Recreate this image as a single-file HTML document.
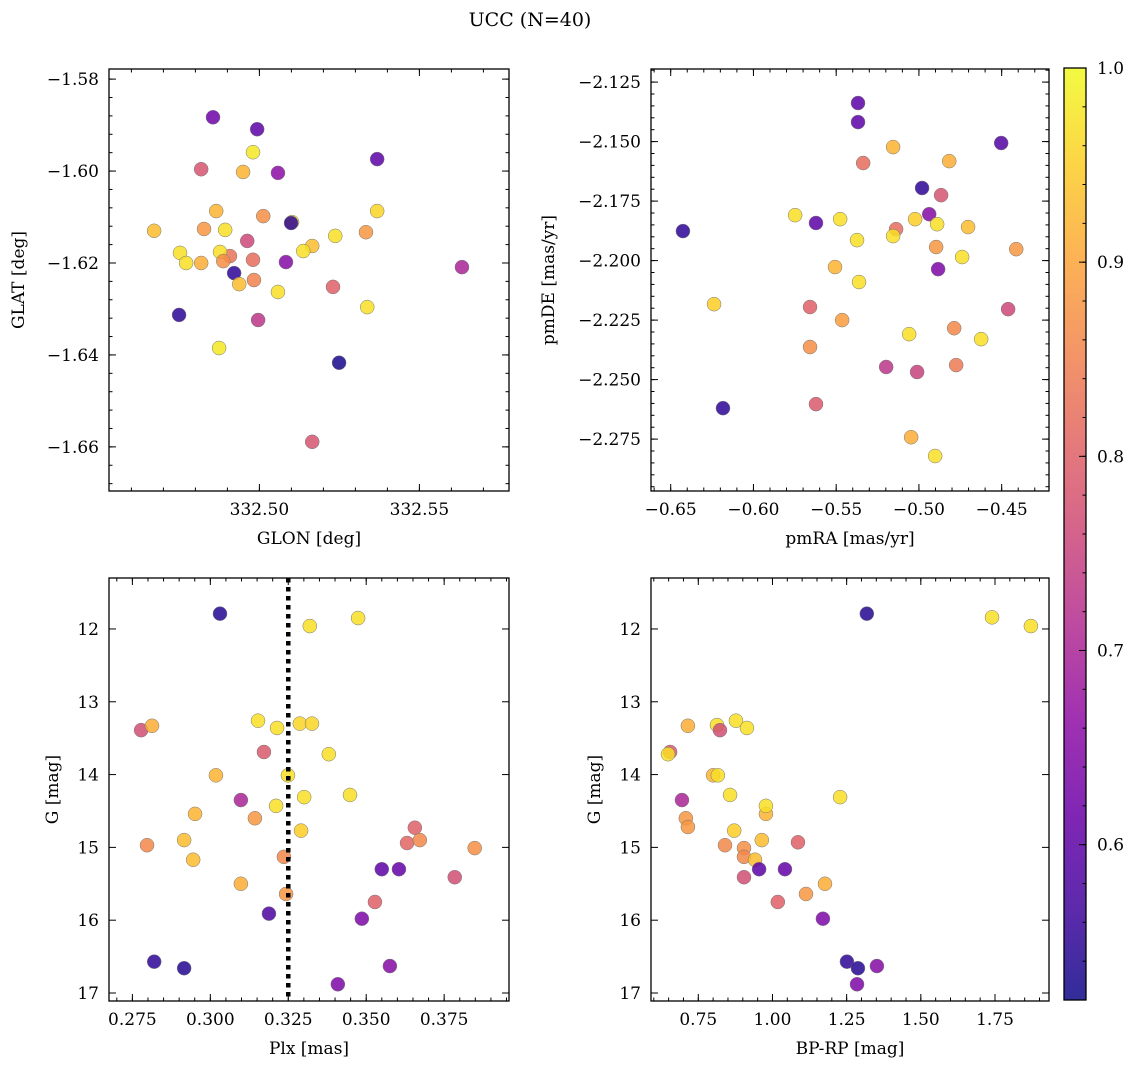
<!DOCTYPE html>
<html><head><meta charset="utf-8">
<style>
html,body{margin:0;padding:0;background:#fff;}
svg{display:block;font-family:"DejaVu Serif","Liberation Serif",serif;}
</style></head>
<body>
<svg id="fig" width="1136" height="1068" viewBox="0 0 1136 1068" xmlns="http://www.w3.org/2000/svg">
<text x="530" y="26" font-size="19" text-anchor="middle">UCC (N=40)</text>
</svg>
<script>
// ---- data ----
const glon=[332.4855,332.4993,332.4980,332.4949,332.4818,332.5058,332.5368,332.4865,332.5012,332.4893,332.5102,332.4671,332.4827,332.4962,332.5165,332.5368,332.5237,332.5333,332.4752,332.4771,332.4818,332.4908,332.4877,332.4887,332.4980,332.5137,332.5083,332.4921,332.4983,332.4937,332.5058,332.5230,332.5633,332.4749,332.4996,332.5337,332.4874,332.5249,332.5165,332.5099];
const glat=[-1.5883,-1.5909,-1.5959,-1.6002,-1.5996,-1.6004,-1.5974,-1.6087,-1.6098,-1.6128,-1.6111,-1.6130,-1.6126,-1.6152,-1.6163,-1.6087,-1.6141,-1.6133,-1.6178,-1.6200,-1.6200,-1.6185,-1.6176,-1.6196,-1.6193,-1.6174,-1.6198,-1.6222,-1.6237,-1.6246,-1.6263,-1.6252,-1.6209,-1.6313,-1.6324,-1.6296,-1.6385,-1.6417,-1.6589,-1.6113];
const prob1=[0.62,0.60,0.98,0.92,0.78,0.66,0.60,0.92,0.87,0.97,0.97,0.93,0.88,0.76,0.93,0.96,0.97,0.88,0.97,0.97,0.91,0.83,0.97,0.87,0.82,0.97,0.65,0.55,0.85,0.93,0.97,0.80,0.70,0.55,0.73,0.97,0.98,0.53,0.78,0.55];
const pmra=[-0.5368,-0.5368,-0.4503,-0.5156,-0.5337,-0.4817,-0.4981,-0.4866,-0.6426,-0.5748,-0.5622,-0.5476,-0.5023,-0.4938,-0.5138,-0.5156,-0.4890,-0.5374,-0.4703,-0.4412,-0.4896,-0.4739,-0.4884,-0.5507,-0.5362,-0.6238,-0.5658,-0.4461,-0.5464,-0.4787,-0.5059,-0.4624,-0.5658,-0.5198,-0.5011,-0.4775,-0.5622,-0.6184,-0.5047,-0.4902];
const pmde=[-2.1338,-2.1418,-2.1506,-2.1523,-2.1590,-2.1582,-2.1695,-2.1725,-2.1876,-2.1809,-2.1842,-2.1826,-2.1826,-2.1805,-2.1868,-2.1897,-2.1847,-2.1914,-2.1859,-2.1952,-2.1943,-2.1985,-2.2036,-2.2027,-2.2090,-2.2183,-2.2195,-2.2204,-2.2250,-2.2284,-2.2309,-2.2330,-2.2363,-2.2447,-2.2468,-2.2439,-2.2603,-2.2620,-2.2742,-2.2821];
const prob2=[0.60,0.60,0.59,0.92,0.82,0.91,0.55,0.78,0.55,0.97,0.60,0.97,0.95,0.65,0.82,0.97,0.97,0.97,0.93,0.88,0.88,0.97,0.64,0.92,0.97,0.95,0.80,0.76,0.89,0.86,0.97,0.97,0.87,0.73,0.75,0.84,0.79,0.55,0.91,0.97];
const plx=[0.3031,0.3319,0.3474,0.2778,0.2813,0.3153,0.3214,0.3287,0.3326,0.3172,0.3380,0.3018,0.3249,0.3098,0.3301,0.3448,0.2951,0.3211,0.3143,0.3291,0.3656,0.2797,0.2916,0.3631,0.3672,0.3848,0.3236,0.2945,0.3550,0.3605,0.3784,0.3098,0.3243,0.3528,0.3188,0.3486,0.2820,0.2916,0.3576,0.3409];
const gmag3=[11.79,11.96,11.85,13.39,13.33,13.26,13.36,13.30,13.30,13.69,13.72,14.01,14.01,14.35,14.31,14.28,14.54,14.43,14.60,14.77,14.73,14.97,14.90,14.94,14.90,15.01,15.13,15.17,15.30,15.30,15.41,15.50,15.64,15.75,15.91,15.98,16.57,16.66,16.63,16.88];
const prob3=[0.54,0.97,0.97,0.77,0.91,0.97,0.97,0.96,0.96,0.79,0.97,0.92,0.97,0.70,0.97,0.97,0.92,0.97,0.88,0.95,0.80,0.86,0.93,0.81,0.86,0.87,0.86,0.93,0.60,0.61,0.77,0.91,0.88,0.80,0.58,0.64,0.55,0.54,0.65,0.64];
const bprp=[1.318,1.740,1.871,0.813,0.715,0.877,0.914,0.823,0.655,0.648,0.800,0.816,0.695,0.857,0.978,0.978,1.228,0.708,0.715,0.871,0.964,0.840,0.904,1.086,0.904,0.941,0.955,1.042,0.904,1.177,1.113,1.018,1.170,1.251,1.288,1.352,1.285];
const gmag4=[11.79,11.84,11.96,13.32,13.33,13.26,13.36,13.39,13.69,13.72,14.01,14.01,14.35,14.28,14.54,14.43,14.31,14.60,14.72,14.77,14.90,14.97,15.01,14.93,15.13,15.17,15.30,15.30,15.41,15.50,15.64,15.75,15.98,16.57,16.66,16.63,16.88];
const prob4=[0.54,0.97,0.97,0.97,0.91,0.97,0.97,0.77,0.79,0.97,0.92,0.97,0.70,0.97,0.92,0.97,0.97,0.88,0.88,0.95,0.93,0.86,0.87,0.80,0.86,0.93,0.60,0.61,0.77,0.91,0.88,0.80,0.64,0.55,0.54,0.65,0.64];
const ticks1x=[332.50,332.55], ticks1y=[-1.58,-1.60,-1.62,-1.64,-1.66];
const ticks2x=[-0.65,-0.60,-0.55,-0.50,-0.45], ticks2y=[-2.125,-2.150,-2.175,-2.200,-2.225,-2.250,-2.275];
const ticks3x=[0.275,0.300,0.325,0.350,0.375], ticksGy=[12,13,14,15,16,17];
const ticks4x=[0.75,1.00,1.25,1.50,1.75];
const cbTicks=[0.6,0.7,0.8,0.9,1.0];
const plxMedian=0.325;
const vmin=0.52, vmax=1.0;

// ---- helpers ----
const NS="http://www.w3.org/2000/svg";
const svg=document.getElementById('fig');
function mk(tag,attrs,parent){const e=document.createElementNS(NS,tag);for(const k in attrs)e.setAttribute(k,attrs[k]);(parent||svg).appendChild(e);return e;}
const plasma=[[13,8,135],[65,4,157],[106,0,168],[143,13,164],[177,42,144],[204,71,120],[225,100,98],[242,132,75],[252,166,54],[252,206,37],[240,249,33]];
function cmap(v){let t=(v-vmin)/(vmax-vmin);t=Math.max(0,Math.min(1,t))*10;const i=Math.min(9,Math.floor(t)),f=t-i;const a=plasma[i],b=plasma[i+1];return 'rgb('+[0,1,2].map(k=>Math.round(a[k]+(b[k]-a[k])*f)).join(',')+')';}
function fmt(v,d){const s=Math.abs(v).toFixed(d);return (v<0?'\u2212':'')+s;}

function panel(cfg){
  const g=mk('g',{});
  
  
  const sx=v=>cfg.px0+(v-cfg.xmin)/(cfg.xmax-cfg.xmin)*(cfg.px1-cfg.px0);
  const sy=v=>cfg.py0+(cfg.ytop-v)/(cfg.ytop-cfg.ybot)*(cfg.py1-cfg.py0);
  for(let i=0;i<cfg.xs.length;i++){
    const c=mk('circle',{cx:sx(cfg.xs[i]),cy:sy(cfg.ys[i]),r:7,fill:cmap(cfg.cs[i]),'fill-opacity':0.85,stroke:'#777','stroke-width':0.5},g);
    
    
  }
  if(cfg.extra)cfg.extra(g,sx,sy);
  const fr=mk('rect',{x:cfg.px0,y:cfg.py0,width:cfg.px1-cfg.px0,height:cfg.py1-cfg.py0,fill:'none',stroke:'#000','stroke-width':1.3},g);
  
  
  const tk=mk('g',{stroke:'#000','stroke-width':1},g);
  for(let v=Math.ceil(cfg.xmin/cfg.xminor-1e-9)*cfg.xminor;v<=cfg.xmax;v+=cfg.xminor){const x=sx(v);
    mk('line',{x1:x,x2:x,y1:cfg.py1,y2:cfg.py1-3.5},tk);mk('line',{x1:x,x2:x,y1:cfg.py0,y2:cfg.py0+3.5},tk);}
  for(let v=Math.ceil(cfg.ybot/cfg.yminor-1e-9)*cfg.yminor;v<=cfg.ytop;v+=cfg.yminor){const y=sy(v);
    mk('line',{x1:cfg.px0,x2:cfg.px0+3.5,y1:y,y2:y},tk);mk('line',{x1:cfg.px1,x2:cfg.px1-3.5,y1:y,y2:y},tk);}
  cfg.xt.forEach(v=>{const x=sx(v);
    mk('line',{x1:x,x2:x,y1:cfg.py1,y2:cfg.py1-7},tk);mk('line',{x1:x,x2:x,y1:cfg.py0,y2:cfg.py0+7},tk);
    const t=mk('text',{x:x,y:cfg.py1+24,'font-size':17,'text-anchor':'middle'},g);t.textContent=fmt(v,cfg.xd);
    });
  cfg.yt.forEach(v=>{const y=sy(v);
    mk('line',{x1:cfg.px0,x2:cfg.px0+7,y1:y,y2:y},tk);mk('line',{x1:cfg.px1,x2:cfg.px1-7,y1:y,y2:y},tk);
    const t=mk('text',{x:cfg.px0-10,y:y+6,'font-size':17,'text-anchor':'end'},g);t.textContent=fmt(v,cfg.yd);
    });
  const xl=mk('text',{x:(cfg.px0+cfg.px1)/2,y:cfg.py1+53,'font-size':17,'text-anchor':'middle'},g);xl.textContent=cfg.xlabel;
  
  const yx=cfg.ylx, yy=(cfg.py0+cfg.py1)/2;
  const yl=mk('text',{x:yx,y:yy,'font-size':17,'text-anchor':'middle',transform:'rotate(-90 '+yx+' '+yy+')'},g);yl.textContent=cfg.ylabel;
  
}

panel({name:'glon-glat-panel',px0:109,px1:509,py0:69,py1:491,xmin:332.453,xmax:332.578,ytop:-1.5778,ybot:-1.6696,
  xs:glon,ys:glat,cs:prob1,xt:ticks1x,yt:ticks1y,xd:2,yd:2,xminor:0.01,yminor:0.004,xlabel:'GLON [deg]',ylabel:'GLAT [deg]',ylx:24});
panel({name:'proper-motion-panel',px0:651,px1:1049,py0:69,py1:491,xmin:-0.6619,xmax:-0.4214,ytop:-2.1195,ybot:-2.2968,
  xs:pmra,ys:pmde,cs:prob2,xt:ticks2x,yt:ticks2y,xd:2,yd:3,xminor:0.01,yminor:0.005,xlabel:'pmRA [mas/yr]',ylabel:'pmDE [mas/yr]',ylx:554});
panel({name:'plx-g-panel',px0:109,px1:509,py0:578,py1:1001,xmin:0.2675,xmax:0.3958,ytop:11.30,ybot:17.11,
  xs:plx,ys:gmag3,cs:prob3,xt:ticks3x,yt:ticksGy,xd:3,yd:0,xminor:0.005,yminor:0.2,xlabel:'Plx [mas]',ylabel:'G [mag]',ylx:58,
  extra:(g,sx,sy)=>{const l=mk('line',{x1:sx(plxMedian),x2:sx(plxMedian),y1:578,y2:1001,stroke:'#000','stroke-width':4.5,'stroke-dasharray':'4.5 4.5'},g);
    }});
panel({name:'cmd-panel',px0:651,px1:1049,py0:578,py1:1001,xmin:0.5906,xmax:1.932,ytop:11.30,ybot:17.11,
  xs:bprp,ys:gmag4,cs:prob4,xt:ticks4x,yt:ticksGy,xd:2,yd:0,xminor:0.05,yminor:0.2,xlabel:'BP-RP [mag]',ylabel:'G [mag]',ylx:600});

// colorbar
const cb=mk('g',{});


const defs=mk('defs',{},cb);
const lg=mk('linearGradient',{id:'cbg',x1:0,y1:1,x2:0,y2:0},defs);
for(let i=0;i<=20;i++){const v=vmin+(vmax-vmin)*i/20;mk('stop',{offset:(i/20),'stop-color':cmap(v),'stop-opacity':0.85},lg);}
const cbx0=1064,cbx1=1086,cby0=68,cby1=1000;
const cy=v=>cby0+(vmax-v)/(vmax-vmin)*(cby1-cby0);
mk('rect',{x:cbx0,y:cby0,width:cbx1-cbx0,height:cby1-cby0,fill:'url(#cbg)',stroke:'#000','stroke-width':1.3},cb);
for(let v=0.54;v<vmax;v+=0.02){mk('line',{x1:cbx1,x2:cbx1-3.5,y1:cy(v),y2:cy(v),stroke:'#000','stroke-width':1},cb);}
cbTicks.forEach(v=>{const y=cy(v);mk('line',{x1:cbx1,x2:cbx1-7,y1:y,y2:y,stroke:'#000','stroke-width':1},cb);
  const t=mk('text',{x:1097,y:y+6,'font-size':17},cb);t.textContent=v.toFixed(1);
  });
</script>
</body></html>
